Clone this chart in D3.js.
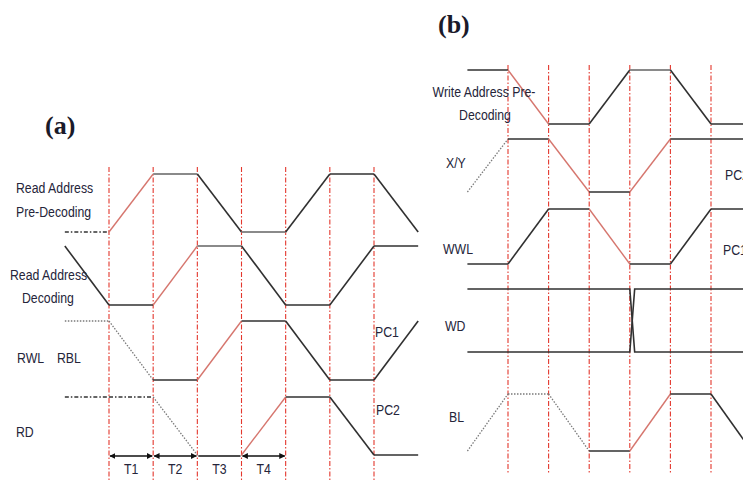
<!DOCTYPE html>
<html>
<head>
<meta charset="utf-8">
<script src="https://cdn.jsdelivr.net/npm/d3@7"></script>
<style>
body { margin: 0; background: #fff; }
text { font-family: "Liberation Sans Narrow", "Arial Narrow", "Liberation Sans", sans-serif; font-size: 15px; fill: #25253a; }
.title { font-family: "Liberation Serif", "DejaVu Serif", serif; font-weight: bold; font-size: 26px; fill: #1a1a2a; }
</style>
</head>
<body>
<svg></svg>
<script>
// clock steps, -1 is the lead-in before the first edge
var stepsA = [-1, 0, 1, 2, 3, 4, 5, 6, 7];
var stepsB = [-1, 0, 1, 2, 3, 4, 5, 6];
var edgesA = [0, 1, 2, 3, 4, 5, 6];
var edgesB = [0, 1, 2, 3, 4, 5];

// panel (a): 1 = high, 0 = low, one value per step
var readPreDec = [0, 0, 1, 1, 0, 0, 1, 1, 0];
var readDec    = [1, 0, 0, 1, 1, 0, 0, 1, 1];
var rwlRbl     = [1, 1, 0, 0, 1, 1, 0, 0, 1];
var readData   = [1, 1, 1, 0, 0, 1, 1, 0, 0];

// kind of each piece between two steps
// n normal, a active (red), h hold, u undefined (dash-dot), p precharge (dotted), - none
var readPreDecKind = ["u", "a", "h", "n", "h", "n", "n", "n"];
var readDecKind    = ["n", "n", "a", "h", "n", "n", "n", "n"];
var rwlRblKind     = ["p", "p", "n", "a", "n", "n", "n", "n"];
var readDataKind   = ["u", "u", "p", "-", "a", "n", "n", "n"];

// panel (b)
var writePreDec = [1, 1, 0, 0, 1, 1, 0, 0];
var xy          = [0, 1, 1, 0, 0, 1, 1, 1];
var wwl         = [0, 0, 1, 1, 0, 0, 1, 1];
var bitLine     = [0, 1, 1, 0, 0, 1, 1, 0];
var writePreDecKind = ["n", "a", "n", "n", "h", "n", "n"];
var xyKind          = ["p", "n", "a", "n", "a", "n", "n"];
var wwlKind         = ["n", "n", "n", "a", "n", "n", "n"];
var bitLineKind     = ["p", "p", "p", "n", "a", "n", "n"];

// write data bus, the two rails swap just after edge 3
var wdSteps = [-1, 3, 3.12, 6];
var wdRailA = [1, 1, 0, 0];
var wdRailB = [0, 0, 1, 1];

// read timing periods
var periods = ["T1", "T2", "T3", "T4"];
var periodStart = [0, 1, 2, 3];
var periodHeads = [true, true, false, true];

var screen = {width: 743, height: 482};

var kindStyle = {
    n: {stroke: "#303030", width: 1.6, dash: null},
    a: {stroke: "#d6766e", width: 1.4, dash: null},
    h: {stroke: "#8a8a8a", width: 1.8, dash: null},
    u: {stroke: "#333", width: 1.4, dash: "4,2,1.5,2"},
    p: {stroke: "#7a7a7a", width: 1.3, dash: "1.5,1.5"}
};

var svg = d3.select("svg")
    .attr("width", screen.width)
    .attr("height", screen.height);

svg.append("rect").attr("width", screen.width).attr("height", screen.height).attr("fill", "#fff");

svg.append("defs").append("marker")
    .attr("id", "head")
    .attr("viewBox", "0 0 10 10")
    .attr("refX", 9).attr("refY", 5)
    .attr("markerWidth", 6).attr("markerHeight", 6)
    .attr("markerUnits", "userSpaceOnUse")
    .attr("orient", "auto-start-reverse")
    .append("path")
    .attr("d", "M0,0 L10,5 L0,10 z")
    .attr("fill", "#111");

var xA = d3.scaleLinear().domain([0, 6]).range([109, 374]);
var xB = d3.scaleLinear().domain([0, 5]).range([508, 711]);

// one y scale per row: low -> high
var rowY = function(low, high)
{
    return d3.scaleLinear().domain([0, 1]).range([low, high]);
}

var drawEdges = function(g, x, edges, top, bottom)
{
    g.selectAll("line.edge")
    .data(edges)
    .enter()
    .append("line")
    .attr("class", "edge")
    .attr("x1", function(d){ return x(d); })
    .attr("x2", function(d){ return x(d); })
    .attr("y1", top)
    .attr("y2", bottom)
    .attr("stroke", "#e3372d")
    .attr("stroke-width", 1.1)
    .attr("stroke-dasharray", "5,2,1.5,2");
}

var drawSignal = function(g, x, y, steps, levels, kinds)
{
    var line = d3.line()
    .x(function(d){ return x(d.t); })
    .y(function(d){ return y(d.v); });

    kinds.forEach(function(k, i)
    {
        if (k == "-") return;
        var s = kindStyle[k];
        g.append("path")
        .datum([{t: steps[i], v: levels[i]}, {t: steps[i + 1], v: levels[i + 1]}])
        .attr("d", line)
        .attr("fill", "none")
        .attr("stroke", s.stroke)
        .attr("stroke-width", s.width)
        .attr("stroke-dasharray", s.dash);
    });
}

var drawBus = function(g, x, y, steps, rail)
{
    var line = d3.line()
    .x(function(d, i){ return x(steps[i]); })
    .y(function(d){ return y(d); });
    g.append("path")
    .datum(rail)
    .attr("d", line)
    .attr("fill", "none")
    .attr("stroke", kindStyle.n.stroke)
    .attr("stroke-width", kindStyle.n.width);
}

// labels are squeezed a bit, the figure's font is a narrow one
var label = function(g, txt, x, y, anchor)
{
    g.append("text")
    .attr("transform", "translate(" + x + "," + y + ") scale(0.82,1)")
    .attr("text-anchor", anchor || "start")
    .text(txt);
}

// ---------- panel (a)
var ga = svg.append("g").attr("id", "panelA");
drawEdges(ga, xA, edgesA, 167, 482);

drawSignal(ga, xA, rowY(232, 174), stepsA, readPreDec, readPreDecKind);
drawSignal(ga, xA, rowY(305, 246), stepsA, readDec, readDecKind);
drawSignal(ga, xA, rowY(380, 321), stepsA, rwlRbl, rwlRblKind);
drawSignal(ga, xA, rowY(455, 397), stepsA, readData, readDataKind);

var arrowY = 456;
periods.forEach(function(p, i)
{
    var x0 = xA(periodStart[i]), x1 = xA(periodStart[i] + 1);
    var ln = ga.append("line")
    .attr("x1", x0 + 1).attr("x2", x1 - 1)
    .attr("y1", arrowY).attr("y2", arrowY)
    .attr("stroke", "#111")
    .attr("stroke-width", 1.5);
    if (periodHeads[i])
    {
        ln.attr("marker-start", "url(#head)").attr("marker-end", "url(#head)");
    }
    label(ga, p, (x0 + x1) / 2, 474, "middle");
});

ga.append("text").attr("class", "title").attr("x", 45).attr("y", 134).text("(a)");
label(ga, "Read Address", 16, 193);
label(ga, "Pre-Decoding", 16, 217);
label(ga, "Read Address", 10, 280);
label(ga, "Decoding", 22, 303);
label(ga, "RWL", 17, 363);
label(ga, "RBL", 57, 363);
label(ga, "RD", 16, 437);
label(ga, "PC1", 375, 337);
label(ga, "PC2", 376, 415);

// ---------- panel (b)
var gb = svg.append("g").attr("id", "panelB");
drawEdges(gb, xB, edgesB, 65, 473);

drawSignal(gb, xB, rowY(124, 70), stepsB, writePreDec, writePreDecKind);
drawSignal(gb, xB, rowY(192, 139), stepsB, xy, xyKind);
drawSignal(gb, xB, rowY(264, 209), stepsB, wwl, wwlKind);
drawBus(gb, xB, rowY(352, 289), wdSteps, wdRailA);
drawBus(gb, xB, rowY(352, 289), wdSteps, wdRailB);
drawSignal(gb, xB, rowY(451, 394), stepsB, bitLine, bitLineKind);

gb.append("text").attr("class", "title").attr("x", 438).attr("y", 33).text("(b)");
label(gb, "Write Address Pre-", 484, 97, "middle");
label(gb, "Decoding", 485, 120, "middle");
label(gb, "X/Y", 446, 168);
label(gb, "PC2", 725, 180);
label(gb, "WWL", 443, 254);
label(gb, "PC1", 723, 255);
label(gb, "WD", 445, 331);
label(gb, "BL", 449, 422);
</script>
</body>
</html>
